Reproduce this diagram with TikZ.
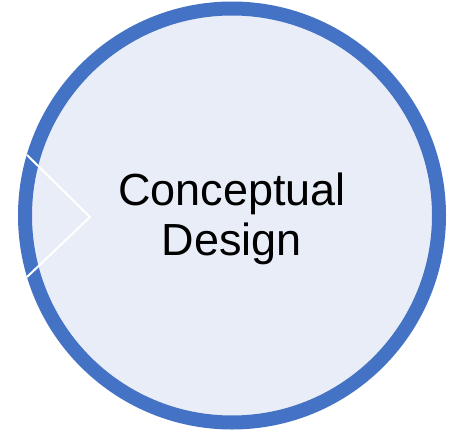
\documentclass[tikz,border=0pt]{standalone}
\usepackage{fontspec}
\setmainfont{Liberation Sans}
\definecolor{ringblue}{HTML}{4472C4}
\definecolor{fillblue}{HTML}{E9EDF7}
\begin{document}
\begin{tikzpicture}[x=1pt,y=-1pt,
  lbl/.style={anchor=base,inner sep=0pt,font=\fontsize{45}{50}\selectfont}]
\useasboundingbox (0,0) rectangle (452,431);
\node[circle,minimum size=414pt,inner sep=0pt,fill=fillblue,draw=ringblue,line width=14pt] (c) at (232,215.5) {};
\coordinate (t1) at (27,155);
\coordinate (tip) at (90,217);
\coordinate (t2) at (27,277);
\draw[white,line width=2pt] (t1) -- (tip) -- (t2);
\node[lbl] (l1) at (232,205) {Conceptual};
\node[lbl] (l2) at (232,255) {Design};
\end{tikzpicture}
\end{document}
